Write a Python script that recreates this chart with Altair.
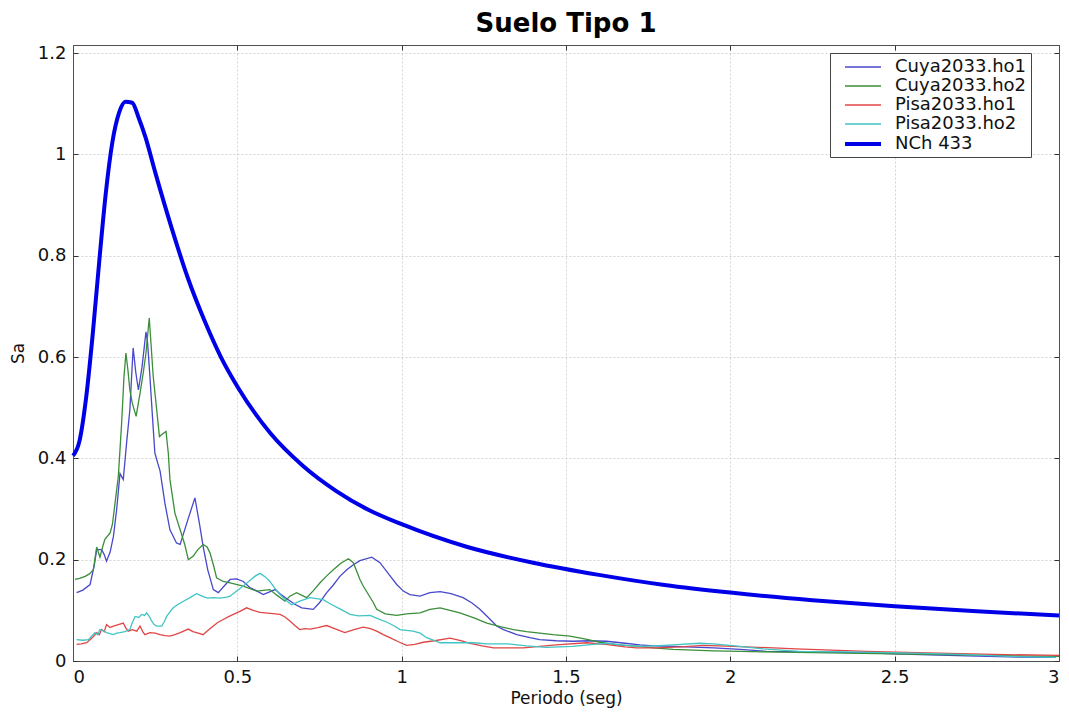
import altair as alt
import pandas as pd

# ---- data ----
series_names = ["Cuya2033.ho1", "Cuya2033.ho2", "Pisa2033.ho1", "Pisa2033.ho2", "NCh 433"]
series_colors = ["#4848cc", "#3a8e3a", "#e04646", "#40c4c4", "#0000e8"]
series_widths = [1.3, 1.3, 1.3, 1.3, 4.0]

cuya_ho1_T = [0.011, 0.03, 0.052, 0.065, 0.072, 0.087, 0.095, 0.102, 0.113, 0.123, 0.133, 0.143, 0.153, 0.163,
              0.173, 0.183, 0.191, 0.199, 0.21, 0.222, 0.227, 0.234, 0.242, 0.249, 0.258, 0.265, 0.28, 0.295,
              0.315, 0.326, 0.35, 0.371, 0.385, 0.396, 0.41, 0.427, 0.442, 0.46, 0.478, 0.498, 0.518, 0.538,
              0.56, 0.579, 0.6, 0.615, 0.635, 0.655, 0.675, 0.696, 0.731, 0.75, 0.772, 0.792, 0.812, 0.833,
              0.853, 0.873, 0.909, 0.934, 0.96, 0.985, 1.005, 1.025, 1.056, 1.086, 1.117, 1.15, 1.187, 1.215,
              1.238, 1.265, 1.289, 1.31, 1.35, 1.39, 1.42, 1.47, 1.522, 1.57, 1.624, 1.68, 1.725, 1.766, 1.825,
              1.907, 1.95, 2.03, 2.11, 2.25, 2.415, 2.55, 2.72, 2.85, 2.99]
cuya_ho1_Sa = [0.135, 0.14, 0.151, 0.19, 0.22, 0.22, 0.21, 0.197, 0.215, 0.246, 0.30, 0.37, 0.358, 0.43,
               0.496, 0.618, 0.57, 0.535, 0.58, 0.65, 0.628, 0.562, 0.48, 0.411, 0.39, 0.375, 0.31, 0.259,
               0.233, 0.23, 0.28, 0.322, 0.27, 0.226, 0.18, 0.141, 0.135, 0.148, 0.161, 0.162, 0.157, 0.145,
               0.138, 0.131, 0.137, 0.141, 0.13, 0.121, 0.112, 0.105, 0.102, 0.115, 0.135, 0.15, 0.167, 0.18,
               0.19, 0.198, 0.205, 0.194, 0.172, 0.151, 0.138, 0.131, 0.128, 0.135, 0.137, 0.133, 0.125, 0.114,
               0.102, 0.085, 0.069, 0.062, 0.052, 0.046, 0.042, 0.04, 0.039, 0.04, 0.039, 0.035, 0.032, 0.03, 0.029,
               0.027, 0.026, 0.023, 0.019, 0.018, 0.016, 0.013, 0.01, 0.008, 0.007]

cuya_ho2_T = [0.006, 0.02, 0.037, 0.05, 0.062, 0.072, 0.082, 0.09, 0.097, 0.113, 0.12, 0.128, 0.138, 0.148,
              0.155, 0.161, 0.167, 0.173, 0.18, 0.192, 0.204, 0.214, 0.222, 0.232, 0.238, 0.244, 0.254, 0.263,
              0.27, 0.283, 0.29, 0.295, 0.31, 0.326, 0.34, 0.351, 0.366, 0.38, 0.396, 0.408, 0.417, 0.427,
              0.437, 0.457, 0.478, 0.518, 0.559, 0.599, 0.62, 0.645, 0.66, 0.68, 0.711, 0.73, 0.751, 0.772,
              0.792, 0.815, 0.838, 0.853, 0.873, 0.883, 0.914, 0.924, 0.95, 0.985, 1.015, 1.056, 1.086, 1.117,
              1.147, 1.177, 1.22, 1.259, 1.3, 1.34, 1.38, 1.42, 1.46, 1.512, 1.56, 1.603, 1.66, 1.725, 1.766,
              1.826, 1.948, 2.03, 2.2, 2.4, 2.6, 2.8, 3.0]
cuya_ho2_Sa = [0.161, 0.163, 0.167, 0.172, 0.18, 0.225, 0.205, 0.225, 0.24, 0.253, 0.27, 0.312, 0.365, 0.47,
               0.56, 0.608, 0.575, 0.535, 0.51, 0.483, 0.529, 0.57, 0.608, 0.677, 0.62, 0.562, 0.5, 0.443,
               0.447, 0.453, 0.41, 0.358, 0.292, 0.259, 0.23, 0.2, 0.207, 0.22, 0.23, 0.225, 0.213, 0.19,
               0.164, 0.157, 0.154, 0.148, 0.138, 0.141, 0.13, 0.118, 0.128, 0.135, 0.125, 0.138, 0.154, 0.168,
               0.18, 0.193, 0.202, 0.194, 0.161, 0.148, 0.115, 0.102, 0.093, 0.09, 0.093, 0.095, 0.102, 0.105,
               0.1, 0.095, 0.085, 0.075, 0.068, 0.062, 0.058, 0.055, 0.052, 0.049, 0.043, 0.037, 0.032, 0.029, 0.026,
               0.023, 0.02, 0.019, 0.017, 0.015, 0.013, 0.011, 0.009]

pisa_ho1_T = [0.011, 0.025, 0.042, 0.06, 0.072, 0.08, 0.087, 0.095, 0.102, 0.113, 0.123, 0.138, 0.153, 0.16,
              0.168, 0.18, 0.194, 0.204, 0.212, 0.219, 0.234, 0.25, 0.265, 0.28, 0.295, 0.31, 0.326, 0.34,
              0.351, 0.365, 0.376, 0.396, 0.41, 0.427, 0.44, 0.457, 0.475, 0.488, 0.508, 0.528, 0.548, 0.569,
              0.6, 0.63, 0.645, 0.66, 0.675, 0.69, 0.705, 0.721, 0.745, 0.772, 0.8, 0.827, 0.855, 0.883, 0.905,
              0.924, 0.944, 0.964, 0.99, 1.015, 1.04, 1.066, 1.1, 1.147, 1.18, 1.208, 1.245, 1.279, 1.37, 1.42,
              1.47, 1.563, 1.62, 1.68, 1.715, 1.775, 1.85, 1.918, 2.01, 2.2, 2.415, 2.6, 2.8, 3.0]
pisa_ho1_Sa = [0.033, 0.034, 0.036, 0.047, 0.056, 0.052, 0.062, 0.058, 0.072, 0.066, 0.069, 0.072, 0.075, 0.066,
               0.059, 0.062, 0.059, 0.069, 0.058, 0.052, 0.056, 0.055, 0.052, 0.05, 0.049, 0.052, 0.056, 0.06,
               0.063, 0.058, 0.056, 0.052, 0.06, 0.069, 0.076, 0.082, 0.088, 0.092, 0.098, 0.105, 0.1, 0.096,
               0.094, 0.092, 0.087, 0.079, 0.07, 0.062, 0.064, 0.063, 0.066, 0.07, 0.063, 0.056, 0.062, 0.067, 0.064,
               0.059, 0.052, 0.046, 0.038, 0.031, 0.033, 0.037, 0.04, 0.045, 0.04, 0.035, 0.03, 0.026, 0.026, 0.029,
               0.032, 0.036, 0.033, 0.028, 0.026, 0.026, 0.028, 0.031, 0.029, 0.024, 0.019, 0.016, 0.013, 0.011]

pisa_ho2_T = [0.011, 0.03, 0.047, 0.058, 0.067, 0.075, 0.082, 0.092, 0.102, 0.113, 0.123, 0.133, 0.143, 0.158,
              0.173, 0.18, 0.189, 0.2, 0.209, 0.218, 0.224, 0.232, 0.239, 0.247, 0.255, 0.27, 0.278, 0.285,
              0.295, 0.305, 0.32, 0.336, 0.356, 0.376, 0.386, 0.396, 0.41, 0.427, 0.447, 0.468, 0.478, 0.498,
              0.518, 0.54, 0.555, 0.569, 0.585, 0.599, 0.615, 0.63, 0.648, 0.665, 0.69, 0.721, 0.761, 0.785,
              0.812, 0.843, 0.868, 0.904, 0.925, 0.954, 0.975, 0.995, 1.035, 1.056, 1.076, 1.096, 1.117, 1.17,
              1.218, 1.259, 1.32, 1.38, 1.44, 1.52, 1.583, 1.624, 1.68, 1.725, 1.766, 1.825, 1.907, 1.948, 1.999,
              2.1, 2.21, 2.35, 2.52, 2.7, 2.85, 2.99]
pisa_ho2_Sa = [0.042, 0.041, 0.042, 0.05, 0.056, 0.052, 0.062, 0.06, 0.056, 0.054, 0.052, 0.055, 0.056, 0.058,
               0.062, 0.075, 0.088, 0.086, 0.092, 0.09, 0.095, 0.088, 0.079, 0.072, 0.069, 0.069, 0.078, 0.088,
               0.097, 0.105, 0.112, 0.118, 0.125, 0.133, 0.13, 0.127, 0.124, 0.125, 0.124, 0.126, 0.128, 0.138,
               0.148, 0.16, 0.168, 0.173, 0.166, 0.157, 0.143, 0.131, 0.12, 0.111, 0.118, 0.125, 0.121, 0.112,
               0.103, 0.092, 0.089, 0.09, 0.084, 0.077, 0.07, 0.062, 0.059, 0.055, 0.046, 0.041, 0.036, 0.036,
               0.036, 0.034, 0.034, 0.03, 0.027, 0.029, 0.033, 0.035, 0.031, 0.029, 0.03, 0.032, 0.035, 0.034, 0.031,
               0.024, 0.019, 0.018, 0.016, 0.013, 0.009, 0.007]

nch_T = [0.0, 0.02, 0.04, 0.06, 0.08, 0.10, 0.12, 0.14, 0.16, 0.18, 0.20, 0.22, 0.25, 0.30, 0.35, 0.40, 0.45,
         0.50, 0.60, 0.70, 0.80, 0.90, 1.00, 1.2, 1.4, 1.6, 1.8, 2.0, 2.25, 2.5, 2.75, 3.0]
nch_Sa = [0.405, 0.435, 0.52, 0.645, 0.79, 0.925, 1.025, 1.082, 1.104, 1.102, 1.072, 1.035, 0.965, 0.855, 0.755,
          0.672, 0.6, 0.542, 0.45, 0.385, 0.336, 0.298, 0.27, 0.225, 0.194, 0.17, 0.15, 0.135, 0.12, 0.108,
          0.098, 0.09]

x_ticks = [0, 0.5, 1, 1.5, 2, 2.5, 3]
y_ticks = [0, 0.2, 0.4, 0.6, 0.8, 1.0, 1.2]

frames = []
for name, T, S in zip(series_names,
                      [cuya_ho1_T, cuya_ho2_T, pisa_ho1_T, pisa_ho2_T, nch_T],
                      [cuya_ho1_Sa, cuya_ho2_Sa, pisa_ho1_Sa, pisa_ho2_Sa, nch_Sa]):
    frames.append(pd.DataFrame({"T": T, "Sa": S, "serie": name}))
df = pd.concat(frames, ignore_index=True)
df["ord"] = range(len(df))
df_cuya = df[df["serie"].isin(series_names[0:2])]
df_pisa = df[df["serie"].isin(series_names[2:4])]
df_nch = df[df["serie"] == series_names[4]]

W, H = 986, 616
FONT = "DejaVu Sans"
xscale = alt.Scale(domain=[0, 3], nice=False, zero=False)
yscale = alt.Scale(domain=[0, 1.216], nice=False)
c_enc = alt.Color("serie:N", scale=alt.Scale(domain=series_names, range=series_colors),
                  legend=alt.Legend(title=None))
w_enc = alt.StrokeWidth("serie:N",
                        scale=alt.Scale(type="ordinal", domain=series_names, range=series_widths),
                        legend=alt.Legend(title=None))

TICK = dict(labels=False, ticks=True, tickSize=5, tickColor="#333333", tickWidth=1,
            grid=False, title=None)

# main axes (labels + grid), bottom / left
cuya = alt.Chart(df_cuya).mark_line(interpolate="linear").encode(
    x=alt.X("T:Q", scale=xscale,
            axis=alt.Axis(values=x_ticks, format="~g", title="Periodo (seg)")),
    y=alt.Y("Sa:Q", scale=yscale, axis=alt.Axis(values=y_ticks, format="~g", title="Sa")),
    color=c_enc, strokeWidth=w_enc, order="ord:Q")

# inward ticks along bottom and left edges
pisa = alt.Chart(df_pisa).mark_line(interpolate="linear").encode(
    x=alt.X("T:Q", scale=xscale,
            axis=alt.Axis(orient="top", offset=-H, domain=False, values=x_ticks, **TICK)),
    y=alt.Y("Sa:Q", scale=yscale,
            axis=alt.Axis(orient="right", offset=-W, domain=False, values=y_ticks, **TICK)),
    color=c_enc, strokeWidth=w_enc, order="ord:Q")

# frame on top / right with inward ticks
nch = alt.Chart(df_nch).mark_line(interpolate="monotone").encode(
    x=alt.X("T:Q", scale=xscale,
            axis=alt.Axis(orient="bottom", offset=-H, domain=True, values=x_ticks, **TICK)),
    y=alt.Y("Sa:Q", scale=yscale,
            axis=alt.Axis(orient="left", offset=-W, domain=True, values=y_ticks, **TICK)),
    color=c_enc, strokeWidth=w_enc, order="ord:Q")

chart = alt.layer(cuya, pisa, nch).resolve_axis(x="independent", y="independent").properties(
    width=W,
    height=H,
    title=alt.TitleParams("Suelo Tipo 1", font=FONT, fontSize=26, fontWeight="bold",
                          color="#000000", anchor="middle", offset=7),
    autosize=alt.AutoSizeParams(type="none"),
    padding={"left": 73, "top": 45, "right": 10, "bottom": 52},
).configure_view(
    stroke="#505050", strokeWidth=1, fill="white"
).configure_axis(
    labelFont=FONT, labelFontSize=18, labelColor="#111111",
    titleFont=FONT, titleFontSize=17, titleFontWeight="normal", titleColor="#111111",
    grid=True, gridColor="#d4d4d4", gridDash=[2, 2], gridWidth=1,
    domain=True, domainColor="#505050", domainWidth=1,
    ticks=False, labelPadding=7,
).configure_axisX(
    titlePadding=4
).configure_axisY(
    titlePadding=10
).configure_legend(
    orient="none", legendX=757, legendY=8,
    strokeColor="#444444", fillColor="white", padding=4,
    labelFont=FONT, labelFontSize=18, labelColor="#111111",
    symbolType="M-2,0L2,0", symbolSize=324, symbolOffset=18,
    labelOffset=21, rowPadding=0,
)

chart.save("out.html", embed_options={"renderer": "svg", "actions": False})
